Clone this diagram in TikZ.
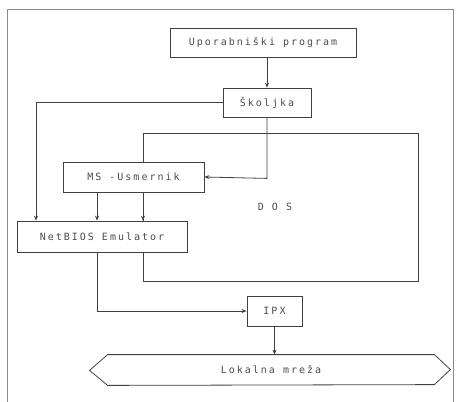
\documentclass[tikz,border=0pt]{standalone}
\usepackage{fontspec}
\newfontfamily\plotfont[LetterSpace=20]{DejaVu Sans Mono}
\usetikzlibrary{arrows.meta}
\tikzset{
  blok/.style={draw=black!75, line width=0.8pt, fill=white, inner sep=0pt,
    font=\plotfont\fontsize{10}{12}\selectfont, text=black!70},
  crta/.style={draw=black!75, line width=0.8pt},
  strelica/.style={crta, -{Stealth[length=5pt,width=4pt]}}
}
\begin{document}
\begin{tikzpicture}[x=1pt, y=-1pt]
    \useasboundingbox (0,0) rectangle (459,402);
    % okvir
    \draw[black!45, line width=0.9pt] (7,402) -- (7,9) -- (453,9) -- (453,402);
    % DOS
    \draw[crta] (143,133) rectangle (418,281);
    \node[font=\plotfont\fontsize{10}{12}\selectfont, text=black!70] (dos) at (275,207) {D O S};
    \node[blok, minimum width=186pt, minimum height=29pt] (prog) at (263,42.5) {Uporabniški program};
    \node[blok, minimum width=88pt, minimum height=29pt] (skol) at (267,102.5) {Školjka};
    \node[blok, minimum width=141pt, minimum height=30pt] (ms) at (133.5,177) {MS -Usmernik};
    \node[blok, minimum width=170pt, minimum height=31pt] (nb) at (102,236.5) {NetBIOS Emulator};
    \node[blok, minimum width=55pt, minimum height=30pt] (ipx) at (274.5,311) {IPX};
    \node[blok, draw=none, fill=none, minimum width=326pt, minimum height=30pt] (lan) at (271,370) {Lokalna mreža};
    \draw[crta] (lan.north west) -- (lan.north east) -- ++(16,15) -- ++(-16,15)
        -- (lan.south west) -- ++(-18,-15) -- cycle;
    % povezave
    \draw[strelica] (prog.south -| skol) -- (skol);
    \draw[strelica] (skol.south) -- ++(0,61) -- (ms.east);
    \draw[strelica] (skol.west) -| (36,0 |- nb.north);
    \draw[strelica] ([xshift=-36.5pt]ms.south) -- ([xshift=-36.5pt]ms.south |- nb.north);
    \draw[strelica] ([xshift=9.5pt]ms.south) -- ([xshift=9.5pt]ms.south |- nb.north);
    \draw[strelica] ([xshift=-5pt]nb.south) |- (ipx.west);
    \draw[strelica] (ipx.south) -- (ipx.south |- lan.north);
  \end{tikzpicture}
\end{document}
